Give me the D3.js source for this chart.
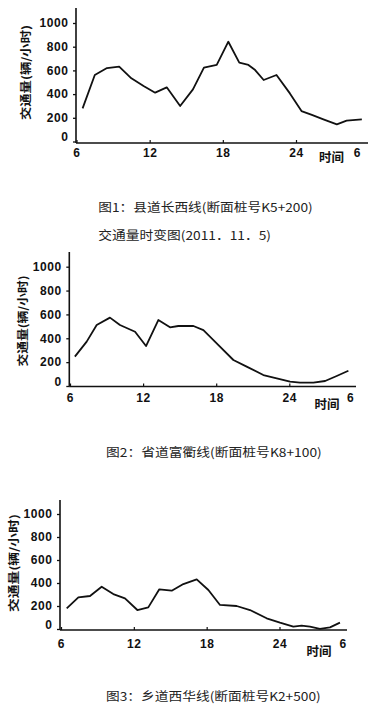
<!DOCTYPE html>
<html><head><meta charset="utf-8">
<script src="https://cdn.jsdelivr.net/npm/d3@7/dist/d3.min.js"></script>
<style>
html,body{margin:0;padding:0;background:#fff;}
svg{display:block;}
.tick text{font-family:"Liberation Sans",Arial,sans-serif;font-weight:bold;font-size:12px;fill:#111;letter-spacing:0.6px;}
.cap{font-family:"Noto Sans CJK SC",sans-serif;font-size:12px;fill:#222;}
.ytitle,.xtitle{font-family:"Noto Sans CJK SC",sans-serif;font-weight:bold;font-size:11px;fill:#111;}
</style></head>
<body>
<svg id="c" width="368" height="715"></svg>
<script>
// ---- data ----
const yTicks = [0, 200, 400, 600, 800, 1000];
const xTicks = [6, 12, 18, 24];
const yTitle = "交通量(辆/小时)";
const xTitle = "时间";

const hours1 = [6.5,7.5,8.5,9.5,10.5,11.5,12.45,13.4,14.5,15.55,16.45,17.5,18.45,19.35,20.1,20.65,21.35,22.4,23.5,24.45,25.3,26.3,27.35,28.15,29.4];
const values1 = [280,561,620,632,533,468,412,457,300,440,623,646,842,665,646,603,519,561,406,257,224,185,145,176,187];

const hours2 = [6.4,7.37,8.19,9.28,10.1,11.34,12.24,13.25,14.21,14.89,16.13,16.95,18.04,19.41,20.5,21.87,22.97,24.06,24.88,25.98,26.94,27.89,28.85];
const values2 = [246,372,511,573,511,455,335,553,492,503,503,469,358,218,162,92,64,36,28,28,42,84,128];

const hours3 = [6.47,7.43,8.39,9.35,10.31,11.27,12.29,13.19,14.1,15.12,16.08,17.18,18.14,19.1,20.47,21.57,22.94,24.04,25.14,25.82,26.51,27.33,28.16,28.98];
const values3 = [180,275,287,368,304,267,165,188,345,333,391,432,339,209,200,165,93,55,20,29,20,2,14,55];

const captions = [
  ["图1：县道长西线(断面桩号K5+200)", "交通量时变图(2011．11．5)"],
  ["图2：省道富衢线(断面桩号K8+100)"],
  ["图3：乡道西华线(断面桩号K2+500)"]
];
const lastTicks = [29, 29, 29.2];
const lastTickLabel = "6";

// ---- layout ----
const layouts = [
  {x6:76.5,x24:296,y0:141.5,y1000:23,axX:76,axY:143,top:8,right:368,padX:5,
   yt:{x:25,y:72.5,len:95}, xt:{x:331.5,y:156},
   caps:[{x:98.3,y:206.7,len:214.4},{x:98.3,y:234.3,len:172.7}]},
  {x6:70,x24:289.3,y0:386,y1000:266.7,axX:69.3,axY:386.5,top:252,right:356,padX:6.5,
   yt:{x:21.7,y:321,len:91}, xt:{x:327,y:403.3},
   caps:[{x:106,y:451.7,len:215.7}]},
  {x6:61,x24:279.5,y0:629,y1000:514,axX:60,axY:630,top:500,right:347,padX:9.5,
   yt:{x:13.3,y:563,len:98}, xt:{x:319,y:650},
   caps:[{x:106,y:695.7,len:214.7}]}
];
const series = [[hours1,values1],[hours2,values2],[hours3,values3]];

const svg = d3.select("#c");

series.forEach(([hrs, vals], i) => {
  const L = layouts[i];
  const x = d3.scaleLinear().domain([6,24]).range([L.x6,L.x24]);
  const y = d3.scaleLinear().domain([0,1000]).range([L.y0,L.y1000]);
  const g = svg.append("g");

  // y axis
  const ya = g.append("g").attr("transform",`translate(${L.axX},0)`)
    .call(d3.axisLeft(y).tickValues(yTicks).tickSize(3).tickPadding(4.5).tickFormat(d=>String(d)));
  ya.select(".domain").remove();
  ya.selectAll(".tick line").attr("stroke","#111").attr("stroke-width",1.3);
  ya.selectAll(".tick text").filter(d=>d===0).attr("dy","-0.05em");

  // x axis
  const xa = g.append("g").attr("transform",`translate(0,${L.axY})`)
    .call(d3.axisBottom(x).tickValues(xTicks.concat([lastTicks[i]])).tickSize(-3).tickPadding(L.padX)
      .tickFormat((d,k)=> k===xTicks.length ? lastTickLabel : String(d)));
  xa.select(".domain").remove();
  xa.selectAll(".tick line").attr("stroke","#111").attr("stroke-width",1.2);
  xa.selectAll(".tick").filter((d,k)=>k===xTicks.length).select("line").remove();

  // axis lines
  g.append("line").attr("x1",L.axX).attr("x2",L.axX).attr("y1",L.top).attr("y2",L.axY)
    .attr("stroke","#111").attr("stroke-width",1.6);
  g.append("line").attr("x1",L.axX).attr("x2",L.right).attr("y1",L.axY).attr("y2",L.axY)
    .attr("stroke","#111").attr("stroke-width",1.6);

  // line
  const line = d3.line().x((d,k)=>x(hrs[k])).y(d=>y(d)).curve(d3.curveLinear);
  g.append("path").datum(vals).attr("d",line).attr("fill","none")
    .attr("stroke","#111").attr("stroke-width",1.8).attr("stroke-linejoin","round");

  // titles
  g.append("text").attr("class","ytitle")
    .attr("transform",`translate(${L.yt.x},${L.yt.y}) rotate(-90)`)
    .attr("text-anchor","middle").attr("dominant-baseline","central")
    .attr("textLength",L.yt.len).attr("lengthAdjust","spacingAndGlyphs")
    .text(yTitle);
  g.append("text").attr("class","xtitle").style("font-size","12.5px")
    .attr("x",L.xt.x).attr("y",L.xt.y)
    .attr("text-anchor","middle").attr("dominant-baseline","central")
    .text(xTitle);

  captions[i].forEach((c,k)=>{
    const P = L.caps[k];
    g.append("text").attr("class","cap").attr("x",P.x).attr("y",P.y)
      .attr("dominant-baseline","central")
      .attr("textLength",P.len).attr("lengthAdjust","spacingAndGlyphs")
      .text(c);
  });
});
</script>
</body></html>
